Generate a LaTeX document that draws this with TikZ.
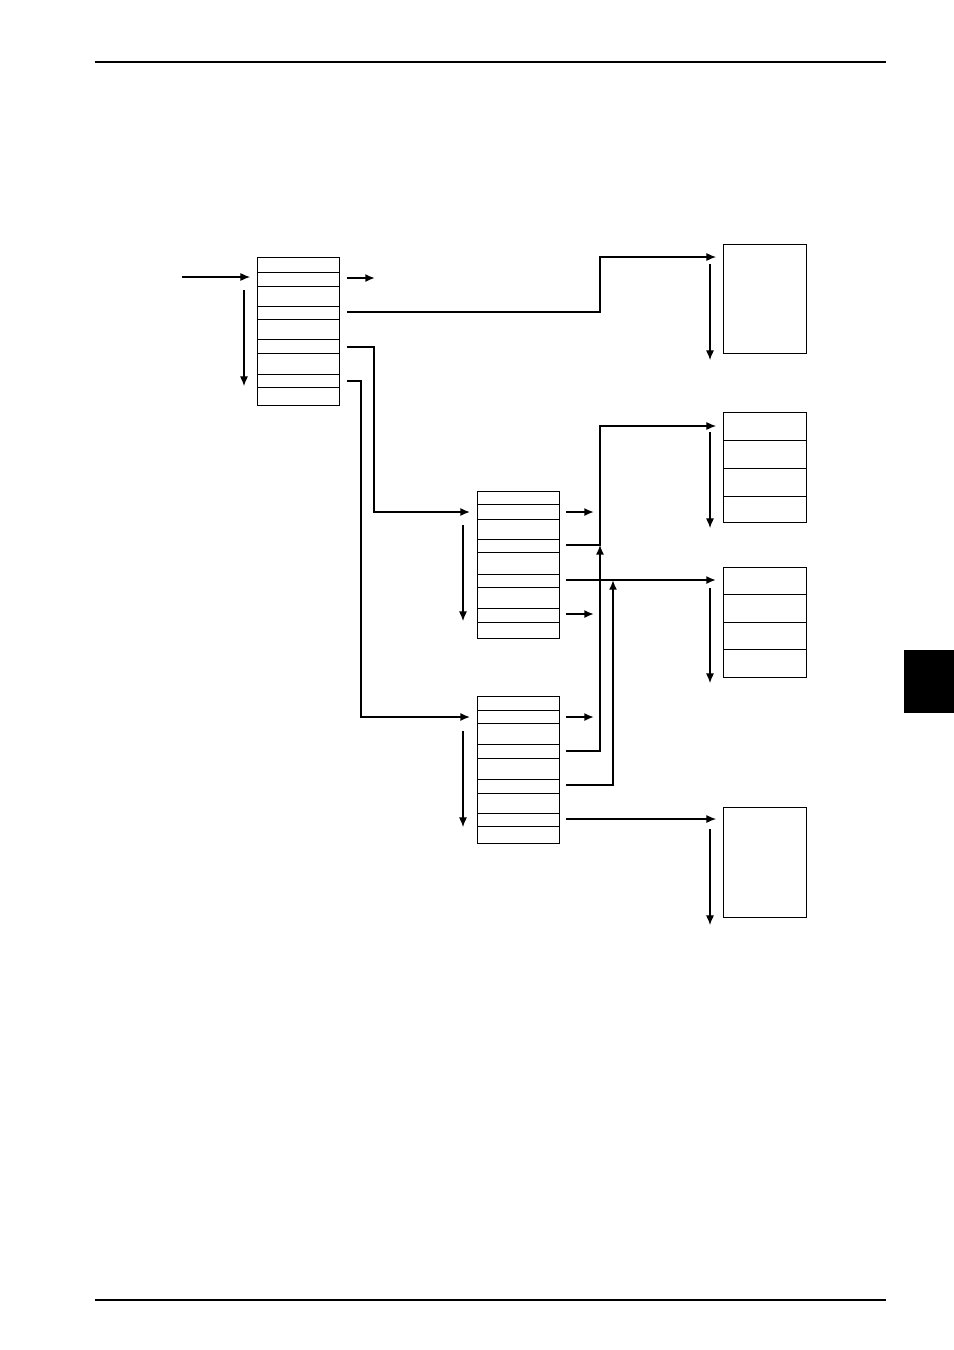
\documentclass[tikz,border=0pt]{standalone}
\usepackage{tikz}
\usetikzlibrary{arrows.meta}

\begin{document}
\begin{tikzpicture}[x=0.02cm, y=-0.02cm, line join=miter,
    tbl/.style={line width=0.55pt},
    flow/.style={line width=0.6pt, -{Latex[length=5.5pt,width=4.6pt]}},
    bold/.style={line width=1.1pt}]

    % Page frame (pixel coordinates of the scanned page)
    \useasboundingbox (0,0) rectangle (954,1350);
    \draw[line width=0.6pt] (95,62) -- (886,62);
    \draw[line width=0.6pt] (95,1300) -- (886,1300);
    \fill[black] (904,650) rectangle (954,713);

    % Tables: corners
    \coordinate (A1) at (257,257);  \coordinate (A2) at (339,405);
    \coordinate (B1) at (477,491);  \coordinate (B2) at (559,638);
    \coordinate (C1) at (477,696);  \coordinate (C2) at (559,843);
    \coordinate (P1) at (723,244);  \coordinate (P2) at (806,353);
    \coordinate (Q1) at (723,412);  \coordinate (Q2) at (806,522);
    \coordinate (R1) at (723,567);  \coordinate (R2) at (806,677);
    \coordinate (S1) at (723,807);  \coordinate (S2) at (806,917);

    % Table outlines and their rows
    \draw[tbl] (A1) rectangle (A2);
    \foreach \y in {272,286,306,319,339,353,374,387}
        \draw[tbl] (257,\y) -- (339,\y);
    \draw[tbl] (B1) rectangle (B2);
    \foreach \y in {504,519,539,552,574,587,608,622}
        \draw[tbl] (477,\y) -- (559,\y);
    \draw[tbl] (C1) rectangle (C2);
    \foreach \y in {710,723,744,758,779,793,813,826}
        \draw[tbl] (477,\y) -- (559,\y);
    \draw[tbl] (P1) rectangle (P2);
    \draw[tbl] (Q1) rectangle (Q2);
    \foreach \y in {440,468,496}
        \draw[tbl] (723,\y) -- (806,\y);
    \draw[tbl] (R1) rectangle (R2);
    \foreach \y in {594,622,649}
        \draw[tbl] (723,\y) -- (806,\y);
    \draw[tbl] (S1) rectangle (S2);

    % Ports on the left of each table (arrow ends) and scan arrows
    \coordinate (Ain) at (250,277);  \coordinate (Asrc) at (182,277);
    \coordinate (Bin) at (470,512);  \coordinate (Cin) at (470,717);
    \coordinate (Pin) at (716,257);  \coordinate (Qin) at (716,426);
    \coordinate (Rin) at (716,580);  \coordinate (Sin) at (716,819);
    \coordinate (Ad0) at (244,290);  \coordinate (Ad1) at (244,386);
    \coordinate (Bd0) at (463,525);  \coordinate (Bd1) at (463,621);
    \coordinate (Cd0) at (463,731);  \coordinate (Cd1) at (463,827);
    \coordinate (Pd0) at (710,264);  \coordinate (Pd1) at (710,360);
    \coordinate (Qd0) at (710,432);  \coordinate (Qd1) at (710,528);
    \coordinate (Rd0) at (710,588);  \coordinate (Rd1) at (710,683);
    \coordinate (Sd0) at (710,829);  \coordinate (Sd1) at (710,925);

    \draw[flow] (Asrc) -- (Ain);
    \draw[flow] (Ad0) -- (Ad1);
    \draw[flow] (Bd0) -- (Bd1);
    \draw[flow] (Cd0) -- (Cd1);
    \draw[flow] (Pd0) -- (Pd1);
    \draw[flow] (Qd0) -- (Qd1);
    \draw[flow] (Rd0) -- (Rd1);
    \draw[flow] (Sd0) -- (Sd1);

    % Ports on the right of the tables
    \coordinate (Aa) at (347,278);  \coordinate (Ab) at (347,312);
    \coordinate (Ac) at (347,347);  \coordinate (Ad) at (347,381);
    \coordinate (Ba) at (566,512);  \coordinate (Bb) at (566,545);
    \coordinate (Bc) at (566,580);  \coordinate (Bd) at (566,614);
    \coordinate (Ca) at (566,717);  \coordinate (Cb) at (566,751);
    \coordinate (Cc) at (566,785);  \coordinate (Cd) at (566,819);

    % Short outgoing stubs
    \draw[flow, bold] (Aa) -- ++(28,0);
    \draw[flow, bold] (Ba) -- ++(28,0);
    \draw[flow, bold] (Bd) -- ++(28,0);
    \draw[flow, bold] (Ca) -- ++(28,0);

    % Links between tables
    \draw[flow] (Ab) -- (600,312) -- (600,257) -- (Pin);
    \draw[flow, line width=0.9pt] (Ac) -- (374,347) -- (374,512) -- (Bin);
    \draw[flow, line width=0.9pt] (Ad) -- (361,381) -- (361,717) -- (Cin);
    \draw[flow] (Bb) -- (600,545) -- (600,426) -- (Qin);
    \draw[flow, bold] (Bc) -- (Rin);
    \draw[flow, line width=0.8pt] (Cb) -- (600,751) -- (600,545);
    \draw[flow, bold] (Cc) -- (613,785) -- (613,580);
    \draw[flow] (Cd) -- (Sin);

\end{tikzpicture}
\end{document}
